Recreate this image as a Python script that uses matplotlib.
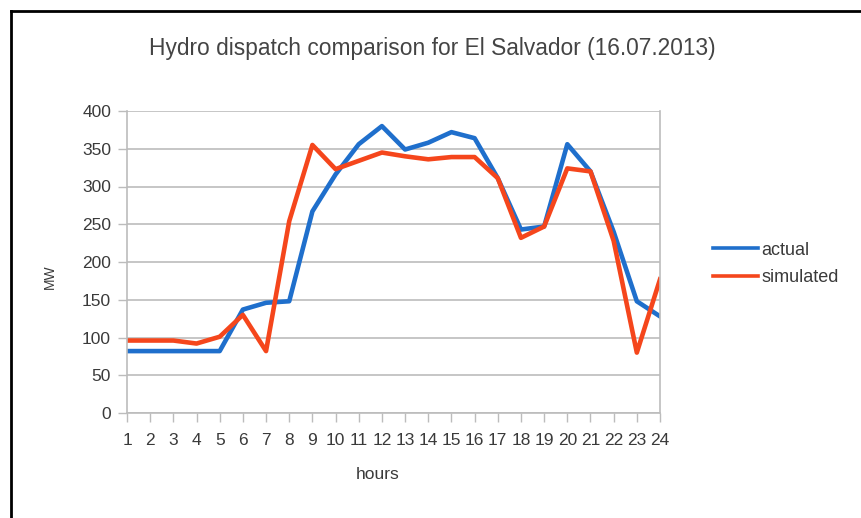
import matplotlib
matplotlib.use("Agg")
import matplotlib.pyplot as plt
from matplotlib.lines import Line2D

plt.rcParams['font.family'] = ['Liberation Sans', 'DejaVu Sans']

hours = list(range(1, 25))
actual = [82, 82, 82, 82, 82, 137, 146, 148, 267, 316, 356, 380,
          349, 358, 372, 364, 311, 243, 247, 356, 320, 240, 148, 128]
simulated = [96, 96, 96, 92, 101, 130, 82, 254, 355, 323, 334, 345,
             340, 336, 339, 339, 311, 232, 247, 324, 320, 228, 80, 177]
yticks = [0, 50, 100, 150, 200, 250, 300, 350, 400]

BLUE = '#1f6fcc'
RED = '#f5461c'
TXT = '#3a3a3a'

fig = plt.figure(figsize=(8.61, 5.18), dpi=100)
ax = fig.add_axes([127/861, 105/518, 533/861, 302/518])

ax.plot(hours, actual, color=BLUE, lw=3.3, solid_joinstyle='round')
ax.plot(hours, simulated, color=RED, lw=3.3, solid_joinstyle='round')

ax.set_xlim(1, 24)
ax.set_ylim(0, 400)
ax.set_xticks(hours)
ax.set_yticks(yticks)
ax.grid(axis='y', color='#bcbcbc', lw=1.2)
ax.set_axisbelow(True)
for s in ['left', 'bottom', 'right', 'top']:
    ax.spines[s].set_color('#bcbcbc')
    ax.spines[s].set_linewidth(1.2)
ax.spines['top'].set_visible(False)
ax.tick_params(axis='both', colors='#bcbcbc', labelcolor=TXT, labelsize=12.5, length=6.5, width=1)
ax.tick_params(axis='x', pad=8)
ax.tick_params(axis='y', pad=5)

fig.text(432/861, 1 - 49/518, 'Hydro dispatch comparison for El Salvador (16.07.2013)',
         fontsize=16.4, color='#444444', ha='center', va='center')
ax.set_xlabel('hours', fontsize=12.5, color=TXT)
ax.xaxis.set_label_coords((378 - 127)/533, -(467 - 413)/302)
ax.set_ylabel('MW', fontsize=10, color=TXT)
ax.yaxis.set_label_coords((57 - 127)/533, (413 - 277)/302)

handles = [Line2D([], [], color=BLUE, lw=2.6), Line2D([], [], color=RED, lw=2.6)]
leg = fig.legend(handles, ['actual', 'simulated'], loc='center left',
                 bbox_to_anchor=(697/861, 1 - 264/518), frameon=False,
                 fontsize=13, handlelength=2.5, labelspacing=0.6, handletextpad=0.15)
for t in leg.get_texts():
    t.set_color(TXT)

# frame border (top and left)
fig.add_artist(Line2D([11/861, 1], [1 - 11/518, 1 - 11/518], color='black', lw=2, transform=fig.transFigure))
fig.add_artist(Line2D([11/861, 11/861], [0, 1 - 11/518], color='black', lw=2, transform=fig.transFigure))

fig.savefig('out.png', dpi=100)
